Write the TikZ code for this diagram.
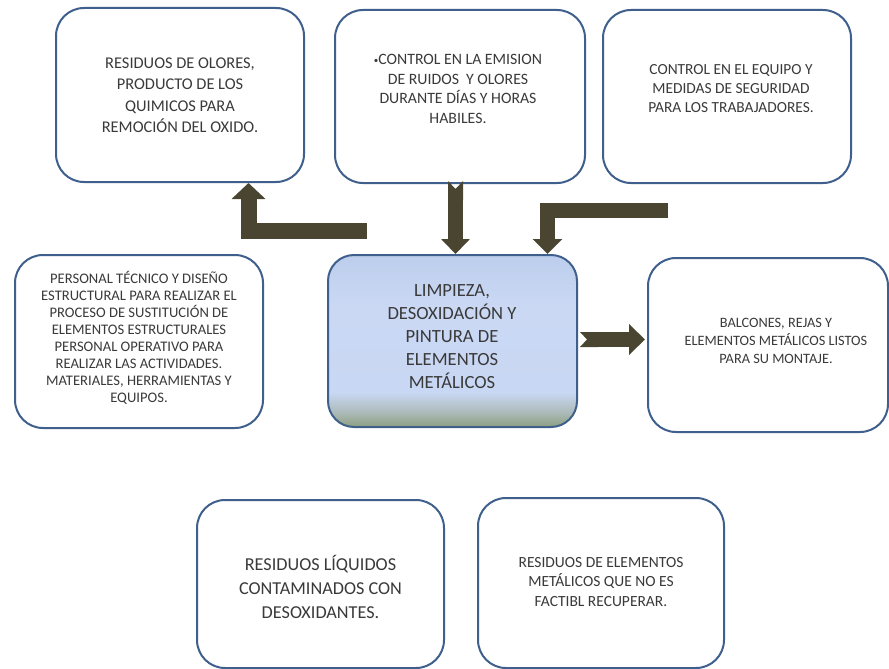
\documentclass[tikz,border=0pt]{standalone}
\usepackage{fontspec}
\setmainfont{Carlito}
\usetikzlibrary{arrows.meta}
\definecolor{bordc}{HTML}{3F5F8C}
\definecolor{arrc}{HTML}{4A4530}
\definecolor{txtc}{HTML}{3A3A3A}
\definecolor{gA}{HTML}{8C9E80}
\definecolor{gB}{HTML}{AAB9B6}
\definecolor{bA}{HTML}{C8D7F3}
\definecolor{bB}{HTML}{CAD8F4}
\definecolor{bC}{HTML}{BCCEEC}
\pgfdeclareverticalshading{ctrshade}{100bp}{color(0bp)=(gA); color(25bp)=(gA); color(29bp)=(gB); color(35bp)=(bA); color(60bp)=(bB); color(75bp)=(bC); color(100bp)=(bC)}
\begin{document}
\begin{tikzpicture}[x=1pt,y=-1pt,
  box/.style={draw=bordc, line width=2pt, rounded corners=28pt, fill=white, inner sep=0pt},
  txt/.style={text=txtc, align=center, inner sep=0pt},
  barrow/.style={draw=arrc, line width=16pt, line join=miter, line cap=butt}]
\useasboundingbox (0,0) rectangle (889,669);
% boxes
\node[box, minimum width=248pt, minimum height=174pt] (A) at (180,95) {};
\node[box, minimum width=250pt, minimum height=173pt] (B) at (460,96.5) {};
\node[box, minimum width=248pt, minimum height=173pt] (C) at (727,96.5) {};
\node[box, minimum width=248pt, minimum height=173pt] (D) at (139,341.5) {};
\node[box, shading=ctrshade, rounded corners=26pt, minimum width=249pt, minimum height=172pt] (E) at (452.5,341) {};
\node[box, minimum width=240pt, minimum height=174pt] (F) at (768,345) {};
\node[box, minimum width=247pt, minimum height=168pt] (G) at (320.5,584) {};
\node[box, minimum width=246pt, minimum height=170pt] (H) at (601,583) {};
% texts
\node[txt, font=\fontsize{16.4}{21.5}\selectfont] (At) at (180,95) {RESIDUOS DE OLORES,\\PRODUCTO DE LOS\\QUIMICOS PARA\\REMOCIÓN DEL OXIDO.};
\node[txt, font=\fontsize{15.8}{19.5}\selectfont] (Bt) at (458,89) {\raisebox{1.5pt}{\fontsize{9}{9}\selectfont•}CONTROL EN LA EMISION\\DE RUIDOS~ Y OLORES\\DURANTE DÍAS Y HORAS\\HABILES.};
\node[txt, font=\fontsize{15.4}{19}\selectfont] (Ct) at (731,89) {CONTROL EN EL EQUIPO Y\\MEDIDAS DE SEGURIDAD\\PARA LOS TRABAJADORES.};
\node[txt, font=\fontsize{14.6}{17}\selectfont] (Dt) at (139,337.5) {PERSONAL TÉCNICO Y DISEÑO\\ESTRUCTURAL PARA REALIZAR EL\\PROCESO DE SUSTITUCIÓN DE\\ELEMENTOS ESTRUCTURALES\\PERSONAL OPERATIVO PARA\\REALIZAR LAS ACTIVIDADES.\\MATERIALES, HERRAMIENTAS Y\\EQUIPOS.};
\node[txt, font=\fontsize{18.6}{23}\selectfont] (Et) at (452,337) {LIMPIEZA,\\DESOXIDACIÓN Y\\PINTURA DE\\ELEMENTOS\\METÁLICOS};
\node[txt, font=\fontsize{14.3}{18}\selectfont] (Ft) at (776,341) {BALCONES, REJAS Y\\ELEMENTOS METÁLICOS LISTOS\\PARA SU MONTAJE.};
\node[txt, font=\fontsize{18.2}{24}\selectfont] (Gt) at (320.5,587) {RESIDUOS LÍQUIDOS\\CONTAMINADOS CON\\DESOXIDANTES.};
\node[txt, font=\fontsize{15.5}{19.5}\selectfont] (Ht) at (601,582) {RESIDUOS DE ELEMENTOS\\METÁLICOS QUE NO ES\\FACTIBL RECUPERAR.};
% arrows
\coordinate (x1) at (248.5,0);
\coordinate (x2) at (455.5,0);
\coordinate (x3) at (547.5,0);
\coordinate (y4) at (0,339.5);
\coordinate (a1s) at (367,230.5);
\coordinate (a1e) at (A.south -| x1);
\draw[barrow, -{Triangle[width=33pt,length=16pt]}] (a1s) -| (a1e);
\coordinate (a2s) at (B.south -| x2);
\coordinate (a2e) at (E.north -| x2);
\draw[barrow, line width=15pt, {Triangle Cap[reversed,length=8pt]}-{Triangle[width=28pt,length=15pt]}] ([yshift=3pt]a2s) -- (a2e);
\coordinate (a3s) at (668,210.5);
\coordinate (a3e) at (E.north -| x3);
\draw[barrow, line width=15pt, -{Triangle[width=29pt,length=15pt]}] (a3s) -| (a3e);
\coordinate (a4s) at (E.east |- y4);
\coordinate (a4e) at (F.west |- y4);
\draw[barrow, line width=15pt, {Triangle Cap[reversed,length=7pt]}-{Triangle[width=30pt,length=16pt]}] ([xshift=2pt]a4s) -- ([xshift=-2pt]a4e);
\end{tikzpicture}
\end{document}
